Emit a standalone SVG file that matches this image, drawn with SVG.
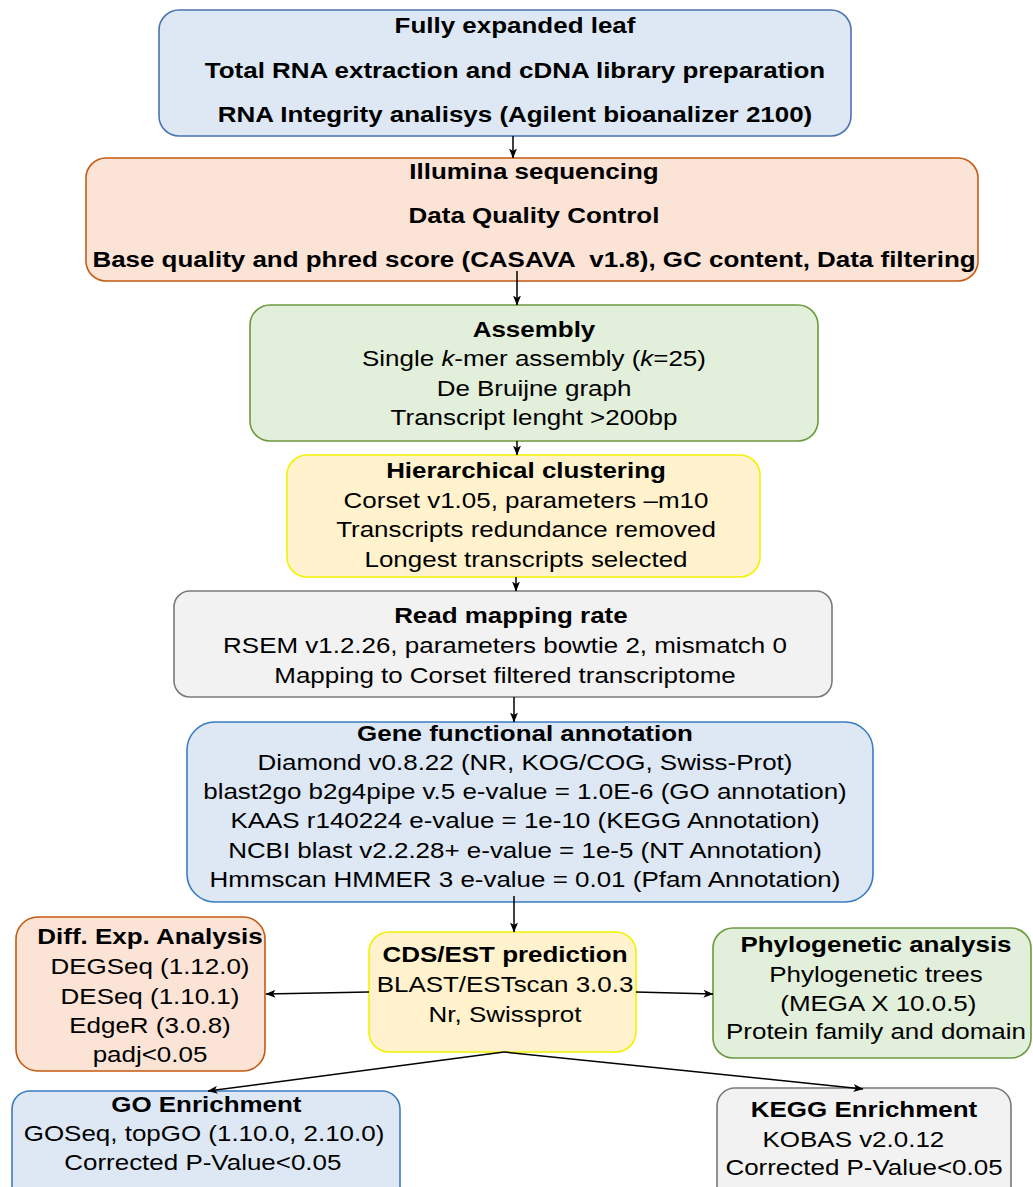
<svg xmlns="http://www.w3.org/2000/svg" width="1033" height="1187" viewBox="0 0 1033 1187">
<defs>
<marker id="arr" viewBox="0 0 10 8" refX="9.5" refY="4" markerWidth="10" markerHeight="8" markerUnits="userSpaceOnUse" orient="auto">
<path d="M0,0 L10,4 L0,8 L2.5,4 z" fill="#000"/>
</marker>
<style>
text{font-family:"Liberation Sans",Arial,sans-serif;font-size:22px;fill:#000;text-anchor:middle}
.b{font-weight:bold}
.blue{fill:#dde8f4;stroke-width:1.6}
.peach{fill:#fbe3d6;stroke:#c55a11;stroke-width:1.6}
.green{fill:#e2efda;stroke:#6b9a3e;stroke-width:1.6}
.yellow{fill:#fff2cc;stroke:#f2f200;stroke-width:1.6}
.gray{fill:#f2f2f2;stroke:#7a7a7a;stroke-width:1.6}
.edge{fill:none;stroke:#000;stroke-width:1.5;marker-end:url(#arr)}
</style>
</defs>
<rect width="1033" height="1187" fill="#fff"/>

<g id="n1">
<rect class="blue" x="159" y="10" width="692" height="126" rx="20" stroke="#4a72b0"/>
<g transform="translate(515 0) scale(1.18 1)">
<text class="b" x="0" y="33">Fully expanded leaf</text>
<text class="b" x="0" y="78">Total RNA extraction and cDNA library preparation</text>
<text class="b" x="0" y="122">RNA Integrity analisys (Agilent bioanalizer 2100)</text>
</g>
</g>

<g id="n2">
<rect class="peach" x="86" y="158" width="892" height="123" rx="20"/>
<g transform="translate(534 0) scale(1.18 1)">
<text class="b" x="0" y="179">Illumina sequencing</text>
<text class="b" x="0" y="223">Data Quality Control</text>
<text class="b" x="0" y="267" xml:space="preserve">Base quality and phred score (CASAVA  v1.8), GC content, Data filtering</text>
</g>
</g>

<g id="n3">
<rect class="green" x="250" y="305" width="568" height="136" rx="20"/>
<g transform="translate(534 0) scale(1.18 1)">
<text class="b" x="0" y="337">Assembly</text>
<text x="0" y="366">Single <tspan font-style="italic">k</tspan>-mer assembly (<tspan font-style="italic">k</tspan>=25)</text>
<text x="0" y="396">De Bruijne graph</text>
<text x="0" y="425">Transcript lenght &gt;200bp</text>
</g>
</g>

<g id="n4">
<rect class="yellow" x="287" y="455" width="473" height="122" rx="20"/>
<g transform="translate(526 0) scale(1.18 1)">
<text class="b" x="0" y="478">Hierarchical clustering</text>
<text x="0" y="508">Corset v1.05, parameters –m10</text>
<text x="0" y="537">Transcripts redundance removed</text>
<text x="0" y="567">Longest transcripts selected</text>
</g>
</g>

<g id="n5">
<rect class="gray" x="174" y="591" width="658" height="106" rx="16"/>
<g transform="translate(505 0) scale(1.18 1)">
<text class="b" x="5" y="623">Read mapping rate</text>
<text x="0" y="653">RSEM v1.2.26, parameters bowtie 2, mismatch 0</text>
<text x="0" y="683">Mapping to Corset filtered transcriptome</text>
</g>
</g>

<g id="n6">
<rect class="blue" x="187" y="722" width="686" height="180" rx="28" stroke="#3a7cc0"/>
<g transform="translate(525 0) scale(1.18 1)">
<text class="b" x="0" y="741">Gene functional annotation</text>
<text x="0" y="770">Diamond v0.8.22 (NR, KOG/COG, Swiss-Prot)</text>
<text x="0" y="799">blast2go b2g4pipe v.5 e-value = 1.0E-6 (GO annotation)</text>
<text x="0" y="828">KAAS r140224 e-value = 1e-10 (KEGG Annotation)</text>
<text x="0" y="858">NCBI blast v2.2.28+ e-value = 1e-5 (NT Annotation)</text>
<text x="0" y="887">Hmmscan HMMER 3 e-value = 0.01 (Pfam Annotation)</text>
</g>
</g>

<g id="n7">
<rect class="yellow" x="369" y="932" width="267" height="120" rx="20"/>
<g transform="translate(505 0) scale(1.18 1)">
<text class="b" x="0" y="962">CDS/EST prediction</text>
<text x="0" y="992">BLAST/ESTscan 3.0.3</text>
<text x="0" y="1022">Nr, Swissprot</text>
</g>
</g>

<g id="n8">
<rect class="peach" x="16" y="917" width="249" height="154" rx="22"/>
<g transform="translate(150 0) scale(1.18 1)">
<text class="b" x="0" y="944">Diff. Exp. Analysis</text>
<text x="0" y="974">DEGSeq (1.12.0)</text>
<text x="0" y="1004">DESeq (1.10.1)</text>
<text x="0" y="1033">EdgeR (3.0.8)</text>
<text x="0" y="1062">padj&lt;0.05</text>
</g>
</g>

<g id="n9">
<rect class="green" x="713" y="928" width="318" height="130" rx="20"/>
<g transform="translate(876 0) scale(1.18 1)">
<text class="b" x="0" y="952">Phylogenetic analysis</text>
<text x="0" y="982">Phylogenetic trees</text>
<text x="2" y="1011">(MEGA X 10.0.5)</text>
<text x="0" y="1039">Protein family and domain</text>
</g>
</g>

<g id="n10">
<rect class="blue" x="12" y="1091" width="388" height="120" rx="18" stroke="#3a7cc0"/>
<g transform="translate(204 0) scale(1.18 1)">
<text class="b" x="2" y="1112">GO Enrichment</text>
<text x="0" y="1141">GOSeq, topGO (1.10.0, 2.10.0)</text>
<text x="-1" y="1170">Corrected P-Value&lt;0.05</text>
</g>
</g>

<g id="n11">
<rect class="gray" x="717" y="1088" width="294" height="120" rx="18" stroke="#666"/>
<g transform="translate(864 0) scale(1.18 1)">
<text class="b" x="0" y="1117">KEGG Enrichment</text>
<text x="-9" y="1147">KOBAS v2.0.12</text>
<text x="0" y="1175">Corrected P-Value&lt;0.05</text>
</g>
</g>

<g id="edges">
<path class="edge" d="M513,136 L513,158"/>
<path class="edge" d="M517,271 L517,305"/>
<path class="edge" d="M517,441 L517,455"/>
<path class="edge" d="M516,577 L516,591"/>
<path class="edge" d="M514,697 L514,722"/>
<path class="edge" d="M514,896 L514,932"/>
<path class="edge" d="M369,992 L266,994"/>
<path class="edge" d="M636,992 L713,994"/>
<path class="edge" d="M504,1052 L208,1091"/>
<path class="edge" d="M504,1052 L863,1089"/>
</g>
</svg>
